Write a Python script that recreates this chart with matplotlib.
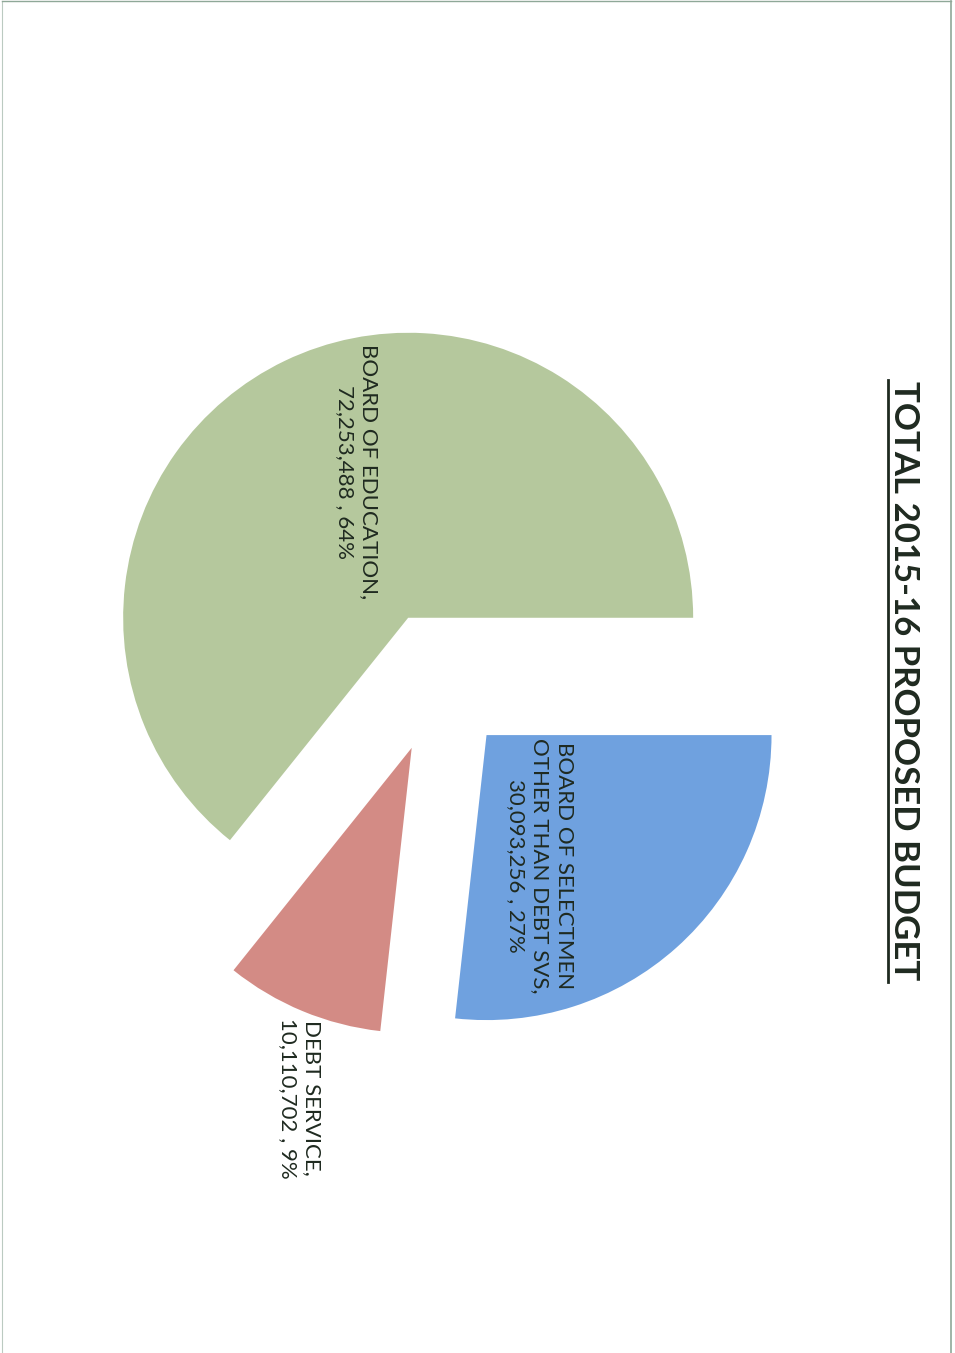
import matplotlib.pyplot as plt
from matplotlib.lines import Line2D

# budget lines, drawn counter-clockwise from 3 o'clock
names = ['BOARD OF EDUCATION,', 'DEBT SERVICE,', 'BOARD OF SELECTMEN\nOTHER THAN DEBT SVS,']
amounts = [72253488, 10110702, 30093256]
percents = [64, 9, 27]
colors = ['#b5c89d', '#d38b85', '#6fa1df']

W, H = 955, 1353
fig = plt.figure(figsize=(W / 100, H / 100), dpi=100)
ax = fig.add_axes([0, 0, 1, 1])

cx, cy, r = 439, H - 682, 285
# explode is an absolute offset in data units, so scale it by the radius
ax.pie(amounts, colors=colors, startangle=0, counterclock=True,
       center=(cx, cy), radius=r, explode=[0.25 * r] * 3,
       wedgeprops=dict(linewidth=0))
ax.set_xlim(0, W)
ax.set_ylim(0, H)
ax.set_aspect('equal')
ax.axis('off')

txt = '#1f2a20'
label_pos = [(357, H - 472), (300, H - 1098), (540, H - 866)]
for name, amt, pct, (x, y) in zip(names, amounts, percents, label_pos):
    ax.text(x, y, f'{name}\n{amt:,} , {pct}%', rotation=-90,
            ha='center', va='center', multialignment='center',
            fontsize=16, family='Lato', color=txt, linespacing=1.25)

# title, rotated with the page
ax.text(904, H - 681, 'TOTAL 2015-16 PROPOSED BUDGET', rotation=-90,
        ha='center', va='center', fontsize=25, family='Lato',
        weight='bold', color=txt)
ax.add_line(Line2D([888, 888], [H - 380, H - 982], color=txt, lw=2))

# page frame
edge = '#8fa898'
ax.add_line(Line2D([2, 951], [H - 1, H - 1], color=edge, lw=1))
ax.add_line(Line2D([951, 951], [H - 1, 0], color=edge, lw=1.2))
ax.add_line(Line2D([2, 2], [H - 1, 0], color=edge, lw=0.8, alpha=0.6))

fig.savefig('out.png', dpi=100)
